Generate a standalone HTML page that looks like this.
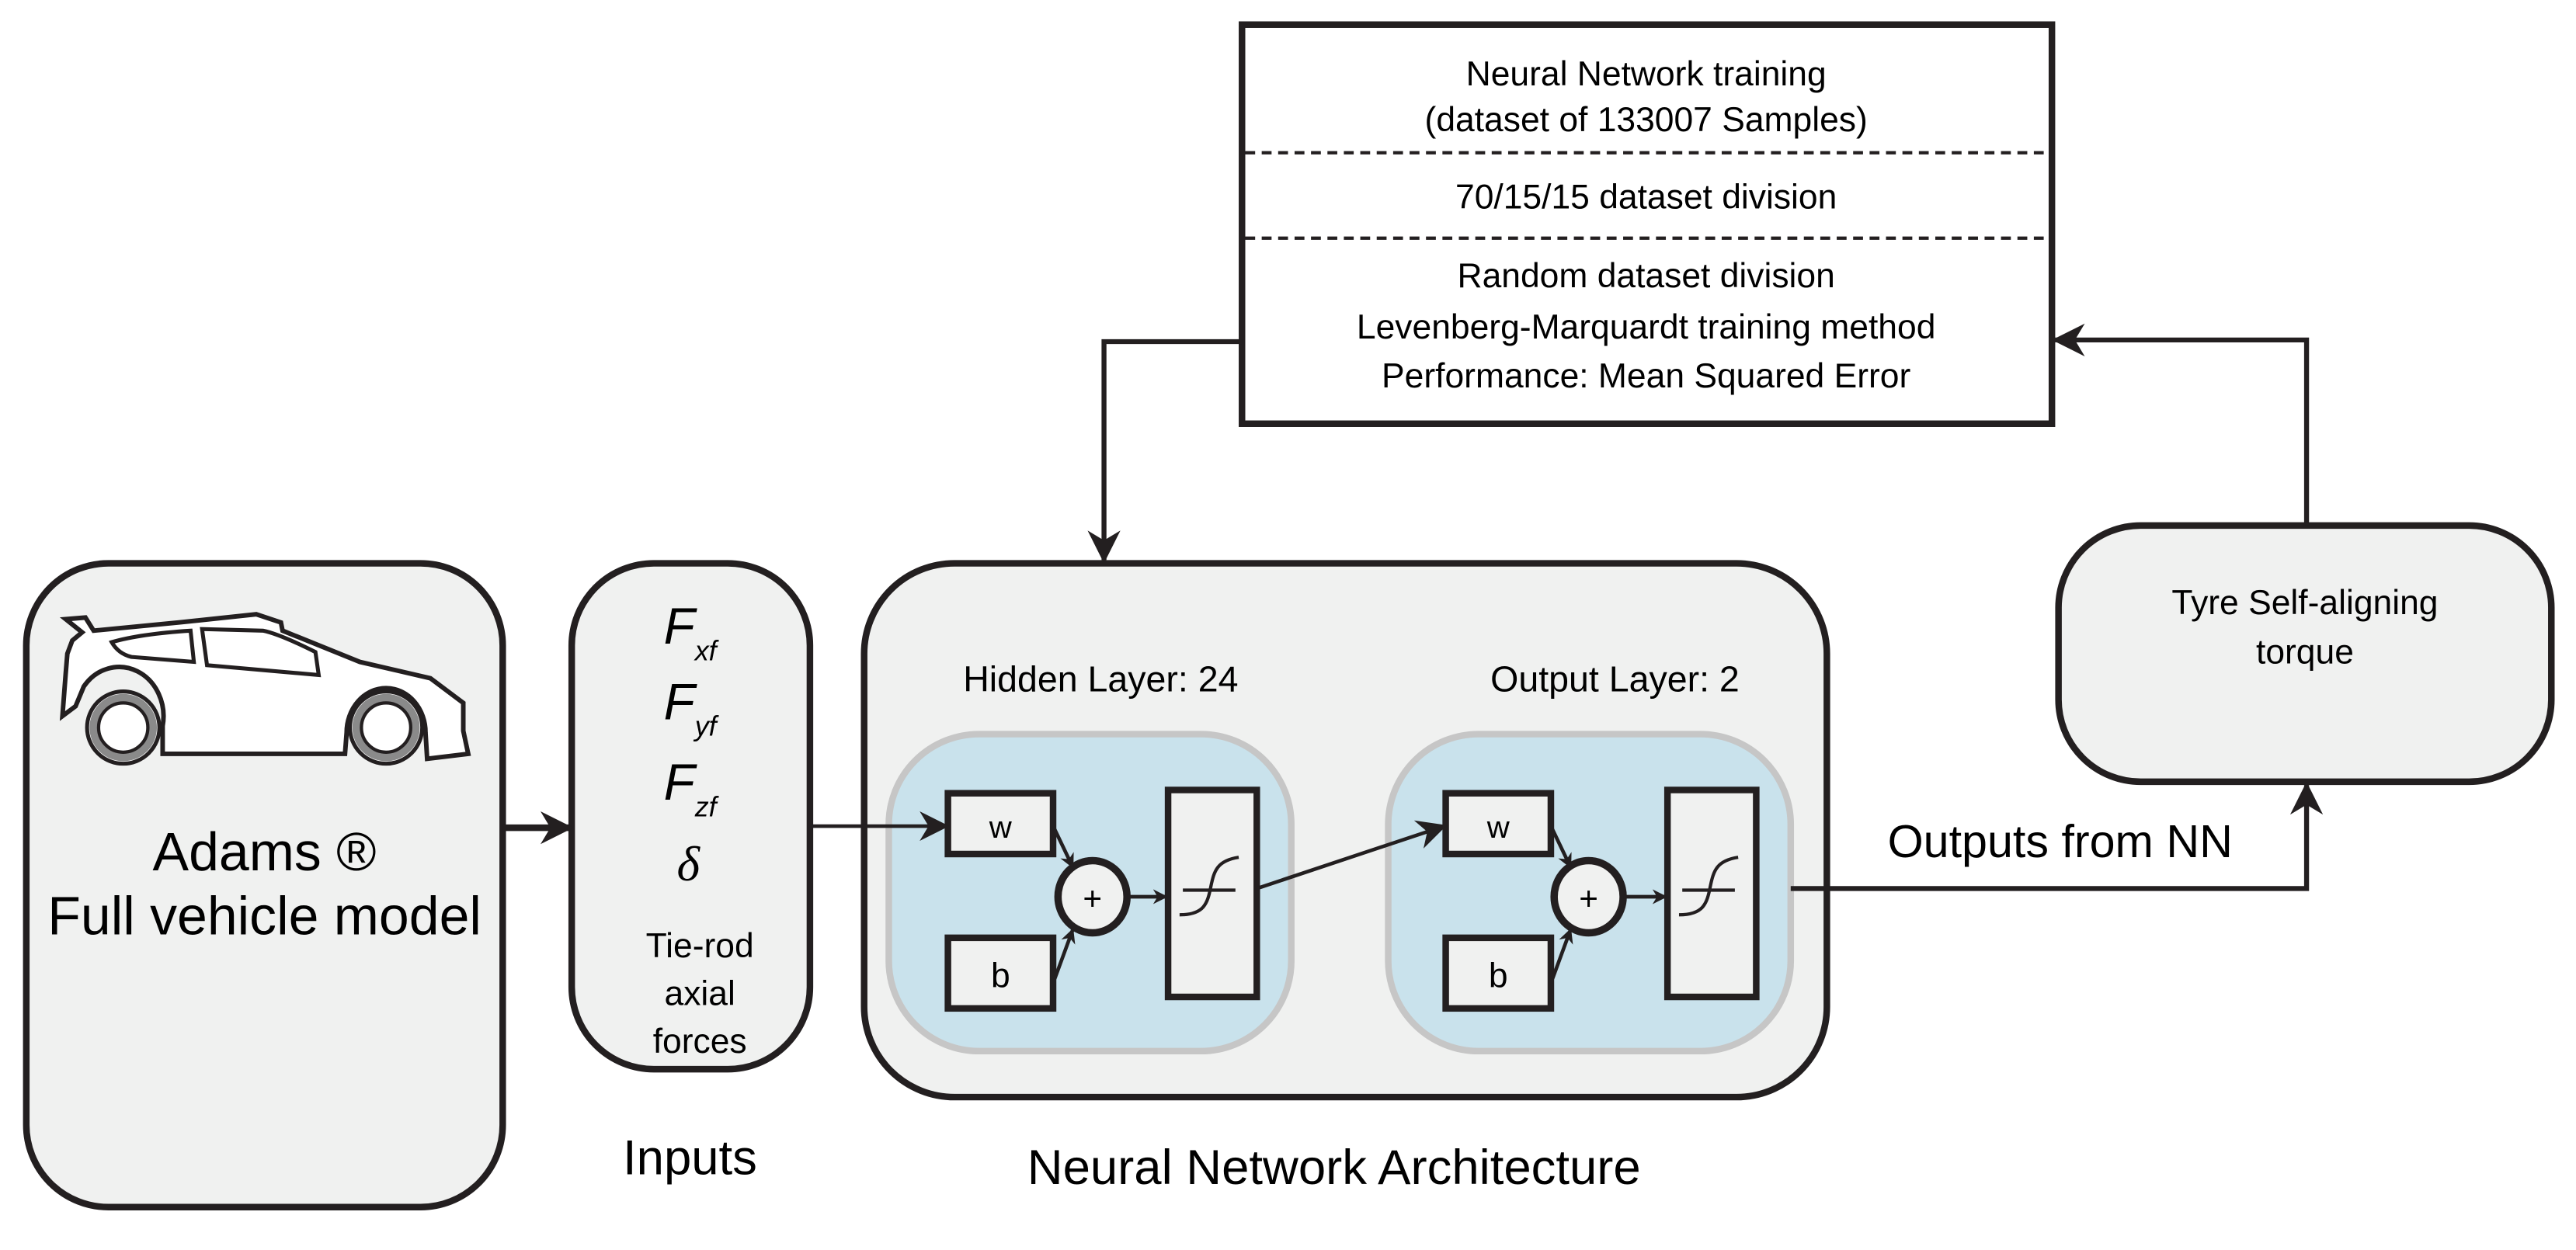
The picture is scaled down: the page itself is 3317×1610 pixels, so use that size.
<!DOCTYPE html>
<html><head><meta charset="utf-8"><style>html,body{margin:0;padding:0;background:#fff}svg{display:block}</style></head>
<body>
<svg width="3317" height="1610" viewBox="0 0 1568 761.1" preserveAspectRatio="none" xmlns="http://www.w3.org/2000/svg" font-family="'Liberation Sans Narrow','Liberation Sans',sans-serif">
<defs>
<marker id="ah" viewBox="0 0 10 10" refX="9" refY="5" markerWidth="9" markerHeight="9" orient="auto" markerUnits="userSpaceOnUse">
<path d="M0,0 L10,5 L0,10 L3,5 Z" fill="#231f20"/></marker>
<marker id="ahb" viewBox="0 0 10 10" refX="9" refY="5" markerWidth="20" markerHeight="20" orient="auto" markerUnits="userSpaceOnUse">
<path d="M0,0 L10,5 L0,10 L3,5 Z" fill="#231f20"/></marker>
<marker id="ahm" viewBox="0 0 10 10" refX="9" refY="5" markerWidth="18" markerHeight="18" orient="auto" markerUnits="userSpaceOnUse">
<path d="M0,0 L10,5 L0,10 L3,5 Z" fill="#231f20"/></marker>
</defs>
<g stroke="#231f20" fill="none">
<rect x="16" y="343" width="290" height="392" rx="50" fill="#f0f1f0" stroke-width="4"/>
<rect x="348" y="343" width="145" height="308" rx="50" fill="#f0f1f0" stroke-width="4"/>
<rect x="526" y="343" width="586" height="325" rx="55" fill="#f0f1f0" stroke-width="4"/>
<rect x="541" y="447" width="245" height="193" rx="55" fill="#c9e2ec" stroke="#c6c6c6" stroke-width="4"/>
<rect x="845" y="447" width="245" height="193" rx="55" fill="#c9e2ec" stroke="#c6c6c6" stroke-width="4"/>
<rect x="577" y="483" width="64" height="37" fill="#f0f1f0" stroke-width="4"/>
<rect x="577" y="571" width="64" height="43" fill="#f0f1f0" stroke-width="4"/>
<ellipse cx="665" cy="546" rx="21" ry="22" fill="#f0f1f0" stroke-width="4.5"/>
<rect x="711" y="481" width="54" height="126" fill="#f0f1f0" stroke-width="4"/>
<rect x="880" y="483" width="64" height="37" fill="#f0f1f0" stroke-width="4"/>
<rect x="880" y="571" width="64" height="43" fill="#f0f1f0" stroke-width="4"/>
<ellipse cx="967" cy="546" rx="21" ry="22" fill="#f0f1f0" stroke-width="4.5"/>
<rect x="1015" y="481" width="54" height="126" fill="#f0f1f0" stroke-width="4"/>
<g stroke-width="2">
<path d="M718,557 C733,557 735,550 737,540 C739,530 741,524 754,522"/><line x1="720" y1="542" x2="752" y2="542"/>
<path d="M1022,557 C1037,557 1039,550 1041,540 C1043,530 1045,524 1058,522"/><line x1="1024" y1="542" x2="1056" y2="542"/>
</g>
<g stroke-width="2.2" marker-end="url(#ah)">
<line x1="642" y1="505" x2="653" y2="528"/><line x1="642" y1="596" x2="653" y2="566"/><line x1="686" y1="546" x2="710" y2="546"/>
<line x1="945" y1="505" x2="956" y2="528"/><line x1="945" y1="596" x2="956" y2="566"/><line x1="988" y1="546" x2="1014" y2="546"/>
</g>
<line x1="493" y1="503" x2="576" y2="503" stroke-width="2.2" marker-end="url(#ahm)"/>
<line x1="765" y1="541" x2="879" y2="503" stroke-width="2.2" marker-end="url(#ahm)"/>
<rect x="756" y="15" width="493" height="243" fill="#fff" stroke-width="4"/>
<line x1="758" y1="93" x2="1247" y2="93" stroke-width="2" stroke-dasharray="6,4"/>
<line x1="758" y1="145" x2="1247" y2="145" stroke-width="2" stroke-dasharray="6,4"/>
<rect x="1253" y="320" width="300" height="156" rx="50" fill="#f0f1f0" stroke-width="4"/>
<line x1="306" y1="504" x2="347" y2="504" stroke-width="4" marker-end="url(#ahb)"/>
<polyline points="1090,541 1404,541 1404,478" stroke-width="3" marker-end="url(#ahb)"/>
<polyline points="1404,320 1404,207 1251,207" stroke-width="3" marker-end="url(#ahb)"/>
<polyline points="756,208 672,208 672,341" stroke-width="3" marker-end="url(#ahb)"/>
<!-- car -->
<path d="M40,377 L52,376 L57,384 L109,379 L156,374 L171,379 L172,384 L219,403 L262,413 L282,428 L282,445 L285,459 L260,462 L259,446 A24,27 0 0 0 211,446 L210,459 L99,459 L99,442 A27,30 0 0 0 51,418 L46,430 L38,436 L40,410 L41,398 L44,390 L50,385 Z" fill="#fff" stroke-width="2.8"/>
<path d="M68,391 Q72,398 80,400 L118,403 L116,384 Q85,386 68,391 Z" stroke-width="2.4"/>
<path d="M123,383 L126,405 L194,411 L192,397 Q170,386 160,384 Z" stroke-width="2.4"/>
<circle cx="75" cy="443" r="22" fill="#fff" stroke="#231f20" stroke-width="2.4"/>
<circle cx="75" cy="443" r="18" fill="none" stroke="#8a8a8a" stroke-width="5"/>
<circle cx="75" cy="443" r="15" fill="#fff" stroke-width="2"/>
<circle cx="235" cy="443" r="22" fill="#fff" stroke="#231f20" stroke-width="2.4"/>
<circle cx="235" cy="443" r="18" fill="none" stroke="#8a8a8a" stroke-width="5"/>
<circle cx="235" cy="443" r="15" fill="#fff" stroke-width="2"/>
</g>
<g fill="#000" text-anchor="middle">
<text x="161" y="530" font-size="33">Adams ®</text>
<text x="161" y="569" font-size="33">Full vehicle model</text>
<text x="420" y="715" font-size="30">Inputs</text>
<text x="812" y="721" font-size="30">Neural Network Architecture</text>
<text x="670" y="421" font-size="22">Hidden Layer: 24</text>
<text x="983" y="421" font-size="22">Output Layer: 2</text>
<text x="1254" y="522" font-size="28">Outputs from NN</text>
<text x="609" y="510" font-size="19">w</text>
<text x="609" y="601" font-size="21">b</text>
<text x="665" y="554" font-size="20">+</text>
<text x="912" y="510" font-size="19">w</text>
<text x="912" y="601" font-size="21">b</text>
<text x="967" y="554" font-size="20">+</text>
<g font-size="21">
<text x="1002" y="52">Neural Network training</text>
<text x="1002" y="80">(dataset of 133007 Samples)</text>
<text x="1002" y="127">70/15/15 dataset division</text>
<text x="1002" y="175">Random dataset division</text>
<text x="1002" y="206">Levenberg-Marquardt training method</text>
<text x="1002" y="236">Performance: Mean Squared Error</text>
<text x="1403" y="374">Tyre Self-aligning</text>
<text x="1403" y="404">torque</text>
<text x="426" y="583">Tie-rod</text>
<text x="426" y="612">axial</text>
<text x="426" y="641">forces</text>
</g>
<g font-style="italic" text-anchor="start">
<text x="404" y="392" font-size="31">F<tspan font-size="17" dy="10">xf</tspan></text>
<text x="404" y="438" font-size="31">F<tspan font-size="17" dy="10">yf</tspan></text>
<text x="404" y="487" font-size="31">F<tspan font-size="17" dy="10">zf</tspan></text>
<text x="412" y="536" font-size="30" font-family="'Liberation Serif',serif">δ</text>
</g>
</g>
</svg>
</body></html>
